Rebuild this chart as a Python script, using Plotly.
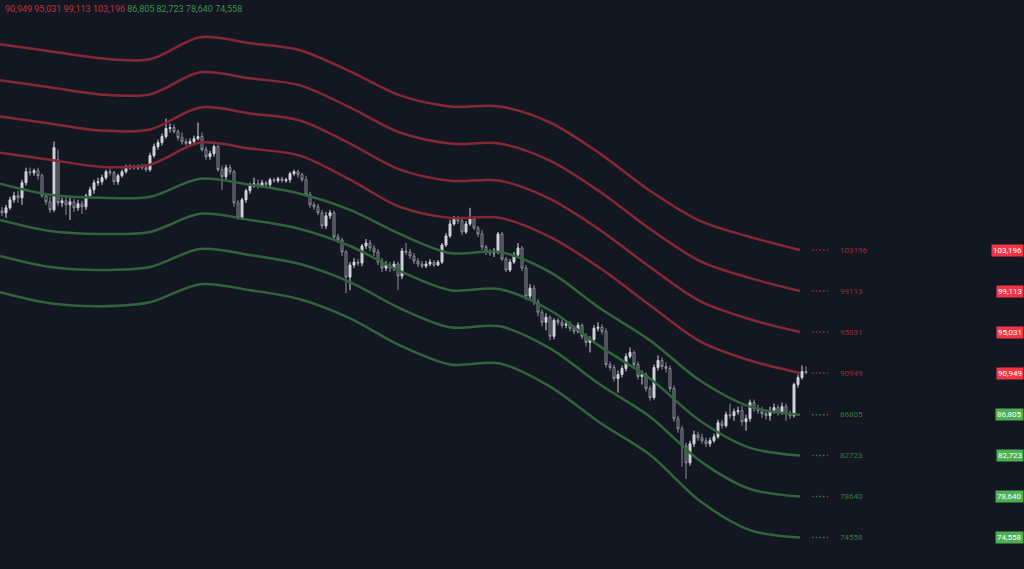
import plotly.graph_objects as go

# ---------------- data ----------------
opens = [107100,106900,107400,108200,108600,108400,109900,111000,110900,111100,110600,108600,108000,107200,112200,107900,108100,107700,108000,107400,
         107800,107500,108600,109200,109900,110000,110400,111000,110900,110000,110600,111000,111400,111500,111400,111500,111400,111200,112600,113500,
         113900,114500,115300,115400,115000,114400,114000,113800,114000,114300,114500,113200,112500,112800,113500,111200,110500,111400,111000,107900,
         106400,108200,109100,109600,109800,109600,109900,109700,110200,110100,110300,110100,110200,110800,111000,110700,110200,108700,107700,107500,
         106900,105600,106600,106900,104500,104200,103000,100500,101700,102000,101900,103600,103900,103400,103000,102000,101400,101700,101400,101800,
         100600,103100,103000,102600,102100,101800,101600,101800,102000,101700,102000,103700,104600,105800,106300,106100,105000,105800,106300,105400,
         104800,103500,103000,102900,103100,104800,102300,101200,102000,102700,103400,101400,98600,99400,98000,97000,96000,96500,94600,96200,
         96000,95700,95800,95400,95100,95700,94600,94000,94300,95400,95500,95100,91800,91500,90400,90800,91400,92600,93000,91800,
         90600,90800,89400,88500,91500,92200,91600,91400,89400,86400,85400,83700,82000,83900,84800,84500,84200,83900,84200,84600,
         86000,85700,86800,86700,87100,87200,86100,86400,88000,87400,87200,86900,86700,87200,87500,87000,87600,86900,86700,89800,
         90500,91100]
closes = [106900,107400,108200,108600,108400,109900,111000,110900,111100,110600,108600,108000,107200,113400,107900,108100,107700,108000,107400,107800,
          107500,108600,109200,109900,110000,110400,111000,110900,110000,110600,111000,111400,111500,111400,111500,111400,111200,112600,113500,113900,
          114500,115300,115400,115000,114400,114000,113800,114000,114300,114500,113200,112500,112800,113500,111200,110500,111400,111000,107900,106400,
          108200,109100,109600,109800,109600,109900,109700,110200,110100,110300,110100,110200,110800,111000,110700,110200,108700,107700,107500,106900,
          105600,106600,106900,104500,104200,103000,100500,101700,102000,101900,103600,103900,103400,103000,102000,101400,101700,101400,101800,100600,
          103100,103000,102600,102100,101800,101600,101800,102000,101700,102000,103700,104600,105800,106300,106100,105000,105800,106300,105400,104800,
          103500,103000,102900,103100,104800,102300,101200,102000,102700,103400,101400,98600,99400,98000,97000,96000,96500,94600,96200,96000,
          95700,95800,95400,95100,95700,94600,94000,94300,95400,95500,95100,91800,91500,90400,90800,91400,92600,93000,91800,90600,
          90800,89400,88500,91500,92200,91600,91400,89400,86400,85400,83700,82000,83900,84800,84500,84200,83900,84200,84600,86000,
          85700,86800,86700,87100,87200,86100,86400,88000,87400,87200,86900,86700,87200,87500,87000,87600,86900,86700,89800,90500,
          91100,91000]
highs = [107500,107700,108500,109000,109100,110200,111400,111400,111300,111400,110800,108800,108500,114000,113200,108400,108600,108400,108300,108200,
         108100,108800,109500,110200,110400,110700,111200,111300,111100,110800,111200,111700,111700,111700,111700,111800,111700,112900,113800,114200,
         114800,116300,115800,115700,115200,114900,114300,114300,114600,115900,114900,113500,113100,113700,113700,111600,111700,111700,111200,108200,
         108400,109300,109900,110400,110200,110200,110100,110400,110400,110500,110500,110400,111000,111200,111200,110900,110600,109000,108000,107800,
         107200,107000,107200,107100,104800,104400,103200,102000,102400,102300,103800,104300,104200,103700,103300,102400,102100,102000,102100,102000,
         103400,103900,103300,102900,102400,102100,102100,102300,102200,102200,103900,104900,106200,106600,106600,106400,106100,107400,106600,105600,
         105200,103700,103300,103400,105000,105000,102500,102300,103000,103900,103600,101700,99800,99700,98300,97300,96900,96700,96400,96400,
         96300,96200,96100,95700,96000,95900,94900,94600,95700,96000,95800,95400,92100,91800,91200,91700,92900,93500,93200,92100,
         91200,91000,89700,91800,92700,92500,92000,91700,89700,86700,85700,84000,84200,85200,85100,84900,84500,84500,84900,86300,
         86300,87100,87900,87400,87600,87700,86800,88300,88300,87800,87600,87200,87600,87900,87800,88000,87900,87200,90000,90800,
         91700,91600]
lows = [106600,106400,107200,107900,107900,107700,109600,110600,110600,110200,108400,107700,106900,107000,107600,107500,106700,106200,107000,107100,
        106800,107200,108300,108800,109600,109700,110200,110600,109700,109700,110400,110800,111200,111200,111200,111200,111000,111000,112400,113200,
        113600,114300,114900,114800,114100,113700,113600,113600,113800,114100,113000,112200,112200,112500,111000,109200,110200,110700,107500,106200,
        106200,107900,108800,109400,109300,109400,109400,109400,109900,109900,109900,109900,109900,110600,110400,110000,108500,107400,107200,106700,
        105300,105300,106300,104200,103900,102600,98900,99200,101400,101600,101600,103300,103100,102600,101700,101000,101100,101000,101100,99200,
        100300,102700,102300,101800,101500,101400,101400,101600,101500,101600,101800,103500,104400,105600,105800,104700,104800,105600,105200,104500,
        103200,102700,102600,102500,102800,102100,101000,101000,101800,102400,101100,98200,98300,97700,96600,95600,95200,94200,94300,95700,
        95400,95400,95100,94800,94900,94300,93600,93000,94100,95100,94800,91500,91200,90100,89000,90500,91100,92400,91500,90300,
        89800,89100,88200,88300,91200,91300,91000,89100,86100,85000,81600,80400,81700,83600,84200,83900,83600,83600,84000,84400,
        85400,85500,86400,86200,86800,85700,85200,86100,87100,86900,86500,86300,86200,86900,86700,86800,86200,86400,86500,89500,
        90300,90800]

# level lines of the envelope indicator, sampled along the bar axis
band_bar_index = [-0.5, 12, 24.5, 37, 49.5, 62, 74.5, 87, 99.5, 112, 124.5, 137, 149.5, 162, 174.5, 187, 199.5]
upper_4 = [123700,123000,122300,122200,124400,123800,123100,121000,118600,117500,117500,115900,112800,109100,106100,104500,103196]
upper_3 = [120100,119400,118700,118700,120900,120300,119600,117400,114900,113800,113800,112100,109000,105300,102100,100400,99113]
upper_2 = [116500,115800,115100,115200,117400,116800,116100,113800,111200,110100,110100,108300,105200,101500,98100,96300,95031]
upper_1 = [112900,112200,111500,111700,113900,113300,112600,110200,107500,106400,106400,104500,101400,97700,94100,92200,90949]
lower_1 = [109800,108700,108400,108500,110300,109700,108800,107200,104800,102900,103000,101000,97400,94200,90200,87600,86805]
lower_2 = [106200,105100,104800,105000,106800,106200,105300,103600,101100,99200,99300,97200,93600,90400,86200,83500,82723]
lower_3 = [102600,101500,101200,101500,103300,102700,101800,100000,97400,95500,95600,93400,89800,86600,82200,79400,78640]
lower_4 = [99000,97900,97600,98000,99800,99200,98300,96400,93700,91800,91900,89600,86000,82800,78200,75300,74558]

upper_levels = [90949, 95031, 99113, 103196]
lower_levels = [86805, 82723, 78640, 74558]

# ---------------- style ----------------
BG = "#131722"
RED_LINE = "#862834"
GREEN_LINE = "#2f6539"
RED_TXT = "#9a2c38"
GREEN_TXT = "#2f7d3c"
RED_BOX = "#f23645"
GREEN_BOX = "#4caf50"
FONT = "Roboto, Liberation Sans, sans-serif"

fig = go.Figure()

for series in (upper_4, upper_3, upper_2, upper_1):
    fig.add_trace(go.Scatter(x=band_bar_index, y=series, mode="lines",
                             line=dict(color=RED_LINE, width=2.5, shape="spline", smoothing=0.9),
                             hoverinfo="skip"))
for series in (lower_1, lower_2, lower_3, lower_4):
    fig.add_trace(go.Scatter(x=band_bar_index, y=series, mode="lines",
                             line=dict(color=GREEN_LINE, width=2.5, shape="spline", smoothing=0.9),
                             hoverinfo="skip"))

fig.add_trace(go.Candlestick(
    x=list(range(len(opens))), open=opens, high=highs, low=lows, close=closes,
    increasing=dict(line=dict(color="#d1d4dc", width=1), fillcolor="#d1d4dc"),
    decreasing=dict(line=dict(color="#8d909a", width=1), fillcolor=BG),
    hoverinfo="skip"))

end_bar = band_bar_index[-1]
dot_x = [end_bar + 3, end_bar + 7]
label_x = end_bar + 9.5

for levels, line_col, txt_col, box_col in ((upper_levels, RED_LINE, RED_TXT, RED_BOX),
                                            (lower_levels, GREEN_LINE, GREEN_TXT, GREEN_BOX)):
    for v in levels:
        fig.add_trace(go.Scatter(x=dot_x, y=[v, v], mode="lines",
                                 line=dict(color=txt_col, width=1.5, dash="1.5px,2.2px"),
                                 hoverinfo="skip"))
        fig.add_annotation(x=label_x, y=v, xref="x", yref="y", text=str(v), showarrow=False,
                           xanchor="left", yanchor="middle",
                           font=dict(family=FONT, size=8, color=txt_col))
        fig.add_annotation(x=1, y=v, xref="paper", yref="y", text=f"{v:,}", showarrow=False,
                           xanchor="right", yanchor="middle", bgcolor=box_col, borderpad=1,
                           font=dict(family=FONT, size=8, color="#ffffff"))

legend_html = (
    " ".join(f'<span style="color:#c2323f">{v:,}</span>' for v in upper_levels) + " " +
    " ".join(f'<span style="color:#3d9146">{v:,}</span>' for v in lower_levels)
)
fig.add_annotation(x=0, y=1, xref="paper", yref="paper", text=legend_html, showarrow=False,
                   xanchor="left", yanchor="top", xshift=3, yshift=-2,
                   font=dict(family=FONT, size=9, color="#c2323f"))

fig.update_layout(
    width=1024, height=569,
    margin=dict(l=0, r=0, t=0, b=0),
    paper_bgcolor=BG, plot_bgcolor=BG,
    showlegend=False, hovermode=False,
    xaxis=dict(range=[-0.5, 255.5], visible=False, rangeslider=dict(visible=False),
               showgrid=False, zeroline=False),
    yaxis=dict(range=[71430, 128100], visible=False, showgrid=False, zeroline=False),
)

fig.write_html("out.html", config={"displayModeBar": False},
               post_script="document.body.style.margin='0';document.body.style.background='#131722';document.body.style.overflow='hidden';")
